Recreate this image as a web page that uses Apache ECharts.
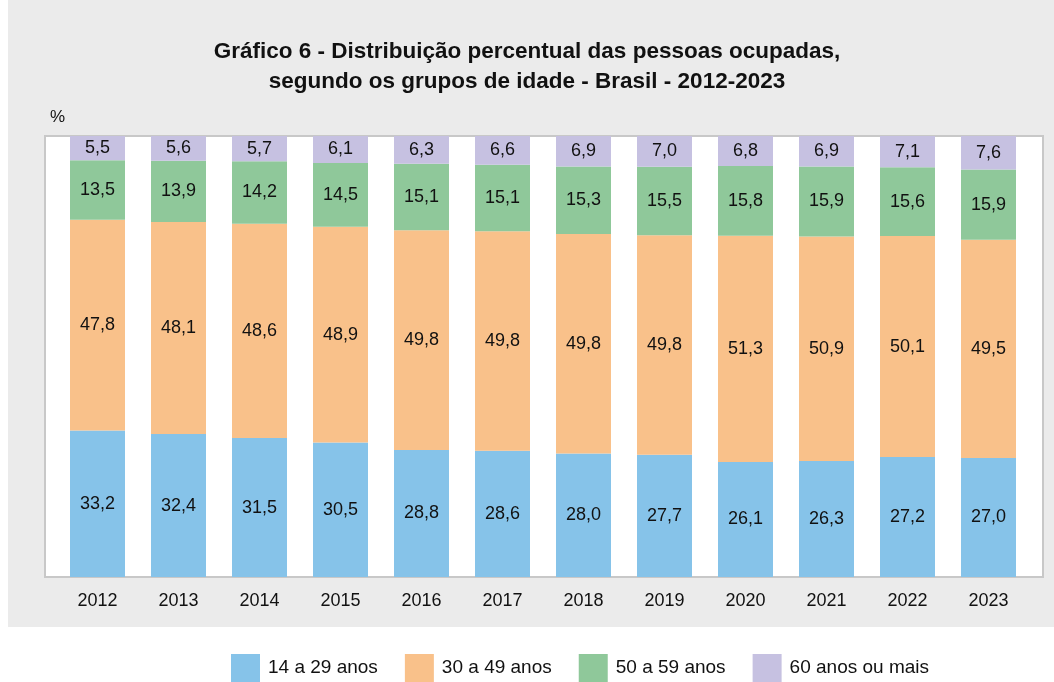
<!DOCTYPE html>
<html>
<head>
<meta charset="utf-8">
<script src="https://cdn.jsdelivr.net/npm/echarts@6/dist/echarts.min.js"></script>
<style>
  html, body { margin: 0; padding: 0; background: #fff; }
  #chart { width: 1054px; height: 682px; }
</style>
</head>
<body>
<div id="chart"></div>
<script>
  // anos
  const years = ["2012", "2013", "2014", "2015", "2016", "2017", "2018", "2019", "2020", "2021", "2022", "2023"];
  // grupos de idade (%)
  const g14a29 = [33.2, 32.4, 31.5, 30.5, 28.8, 28.6, 28.0, 27.7, 26.1, 26.3, 27.2, 27.0];
  const g30a49 = [47.8, 48.1, 48.6, 48.9, 49.8, 49.8, 49.8, 49.8, 51.3, 50.9, 50.1, 49.5];
  const g50a59 = [13.5, 13.9, 14.2, 14.5, 15.1, 15.1, 15.3, 15.5, 15.8, 15.9, 15.6, 15.9];
  const g60mais = [5.5, 5.6, 5.7, 6.1, 6.3, 6.6, 6.9, 7.0, 6.8, 6.9, 7.1, 7.6];
  const seriesNames = ["14 a 29 anos", "30 a 49 anos", "50 a 59 anos", "60 anos ou mais"];
  const colors = ["#86c3e9", "#f9c18a", "#8fc89a", "#c6c1e1"];

  const font = "'Liberation Sans', Arial, sans-serif";
  const chart = echarts.init(document.getElementById("chart"), null, { renderer: "canvas" });

  function bar(name, data, color) {
    return {
      name: name,
      type: "bar",
      stack: "total",
      data: data,
      barWidth: 55,
      itemStyle: { color: color },
      label: {
        show: true,
        position: "inside",
        color: "#111",
        fontSize: 18,
        fontFamily: font,
        formatter: (p) => p.value.toFixed(1).replace(".", ","),
      },
      emphasis: { disabled: true },
    };
  }

  const option = {
    animation: false,
    backgroundColor: "#fff",
    textStyle: { fontFamily: font },
    graphic: [
      {
        type: "rect",
        z: -10,
        shape: { x: 8, y: 0, width: 1046, height: 627 },
        style: { fill: "#ebebeb" },
      },
      {
        type: "rect",
        z: -5,
        shape: { x: 45, y: 136, width: 998, height: 441 },
        style: { fill: "#fff", stroke: "#c8c8c8", lineWidth: 2 },
      },
      {
        type: "text",
        left: 50,
        top: 109,
        style: { text: "%", fontSize: 17, fill: "#111", fontFamily: font },
      },
    ],
    title: {
      text: "Gráfico 6 - Distribuição percentual das pessoas ocupadas,\nsegundo os grupos de idade - Brasil - 2012-2023",
      left: "center",
      top: 32,
      textStyle: {
        fontSize: 22.5,
        fontWeight: "bold",
        color: "#111",
        lineHeight: 30,
        fontFamily: font,
      },
    },
    legend: {
      data: seriesNames,
      left: 231,
      top: 654,
      padding: 0,
      itemWidth: 29,
      itemHeight: 28,
      itemGap: 27,
      icon: "rect",
      textStyle: { fontSize: 19, color: "#111", fontFamily: font, padding: [0, 0, 0, 3] },
    },
    grid: { left: 57, width: 972, top: 136, height: 441 },
    xAxis: {
      type: "category",
      data: years,
      axisLine: { show: false },
      axisTick: { show: false },
      axisLabel: { fontSize: 18, color: "#111", margin: 15, fontFamily: font },
    },
    yAxis: {
      type: "value",
      min: 0,
      max: 100,
      show: false,
      splitLine: { show: false },
    },
    series: [
      bar(seriesNames[0], g14a29, colors[0]),
      bar(seriesNames[1], g30a49, colors[1]),
      bar(seriesNames[2], g50a59, colors[2]),
      bar(seriesNames[3], g60mais, colors[3]),
    ],
  };

  chart.setOption(option);
</script>
</body>
</html>
